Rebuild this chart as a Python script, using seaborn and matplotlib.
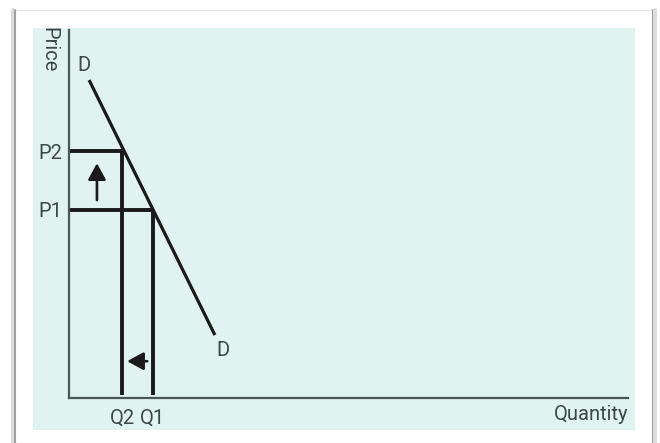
import matplotlib
matplotlib.use("Agg")
import matplotlib.pyplot as plt
from matplotlib.patches import Rectangle
import seaborn as sns
import pandas as pd

# Demand curve end points (quantity, price) on a 0-100 scale
demand_q = [3.6, 26.1]
demand_p = [86.4, 17.1]

# Price levels before and after, with the matching quantities demanded
price_levels = [51.1, 67.1]
price_labels = ["P1", "P2"]
quantity_levels = [15.0, 9.5]
quantity_labels = ["Q1", "Q2"]

sns.set_theme(style="white")
plt.rcParams["font.family"] = ["Roboto", "DejaVu Sans"]

W, H = 660, 443
fig = plt.figure(figsize=(W / 100, H / 100), dpi=100)
fig.patch.set_facecolor("white")

# Card with soft side shadows and the pale teal panel
def fx(px):
    return px / W

def fy(py):
    return 1 - py / H

fig.patches.append(Rectangle((fx(15), 0), fx(652) - fx(15), fy(10),
                             transform=fig.transFigure, facecolor="white",
                             edgecolor="#e6e6e6", lw=1.0, zorder=0))
for x0, c, w in [(13.0, "#dcdcdc", 4.0), (14.5, "#9a9a9a", 1.8),
                 (652.5, "#9a9a9a", 2.0), (654.5, "#dcdcdc", 4.0)]:
    fig.add_artist(plt.Line2D([fx(x0), fx(x0)], [0, fy(10)],
                              transform=fig.transFigure, color=c, lw=w * 0.72,
                              zorder=0.5))
fig.patches.append(Rectangle((fx(33), fy(430)), fx(635) - fx(33), fy(28) - fy(430),
                             transform=fig.transFigure, facecolor="#e0f3f1",
                             edgecolor="none", zorder=1))

ax = fig.add_axes([fx(69), fy(398), fx(628) - fx(69), fy(30) - fy(398)])
ax.set_zorder(3)
ax.set_facecolor("none")
ax.set_xlim(0, 100)
ax.set_ylim(0, 100)

text_color = "#3d4747"
fs = 14.5

# Demand curve
dem = pd.DataFrame({"q": demand_q, "p": demand_p})
sns.lineplot(data=dem, x="q", y="p", ax=ax, color="#1a1a1a", lw=2.3,
             solid_capstyle="butt")

# Price and quantity guide lines
for p, q in zip(price_levels, quantity_levels):
    ax.plot([0, q], [p, p], color="#1a1a1a", lw=2.8, solid_capstyle="butt")
    ax.plot([q, q], [0.8, p], color="#1a1a1a", lw=2.8, solid_capstyle="butt")

# Direction arrows: price rises, quantity falls
arrow_style = dict(arrowstyle="-|>,head_length=0.55,head_width=0.3",
                   color="#1a1a1a", lw=1.9, mutation_scale=18,
                   shrinkA=0, shrinkB=0)
ax.annotate("", xy=(5.0, 63.8), xytext=(5.0, 53.8), arrowprops=arrow_style)
ax.annotate("", xy=(10.4, 10.0), xytext=(14.0, 10.0), arrowprops=arrow_style)

# Curve labels
ax.annotate("D", xy=(demand_q[0], demand_p[0]), xytext=(-5, 15),
            textcoords="offset pixels", ha="center", va="center",
            fontsize=fs, color=text_color)
ax.annotate("D", xy=(demand_q[1], demand_p[1]), xytext=(8, -15),
            textcoords="offset pixels", ha="center", va="center",
            fontsize=fs, color=text_color)

# Axis ticks carry the level labels
ax.set_yticks(price_levels)
ax.set_yticklabels(price_labels)
ax.set_xticks(quantity_levels)
ax.set_xticklabels(quantity_labels)
ax.tick_params(axis="both", length=0, labelsize=fs, colors=text_color)
ax.tick_params(axis="y", pad=5)
ax.tick_params(axis="x", pad=8)

for side in ["top", "right"]:
    ax.spines[side].set_visible(False)
for side in ["left", "bottom"]:
    ax.spines[side].set_color("#4a5555")
    ax.spines[side].set_linewidth(1.6)

ax.set_xlabel("")
ax.set_ylabel("")
fig.text(fx(628), fy(414), "Quantity", ha="right", va="center",
         fontsize=fs, color=text_color, zorder=4)
fig.text(fx(49), fy(27), "Price", ha="center", va="top", rotation=-90,
         fontsize=fs, color=text_color, zorder=4)

fig.savefig("out.png", dpi=100, facecolor="white")
